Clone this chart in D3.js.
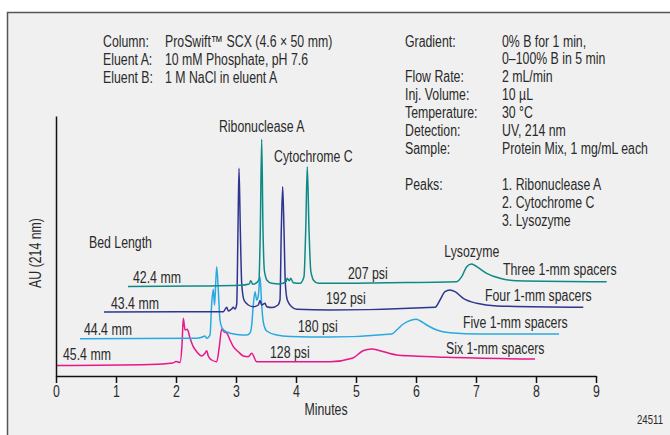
<!DOCTYPE html>
<html>
<head>
<meta charset="utf-8">
<script src="https://cdn.jsdelivr.net/npm/d3@7"></script>
<style>
  body { margin: 0; background: #fff; }
  svg { display: block; font-family: "Liberation Sans", Arial, Helvetica, sans-serif; }
</style>
</head>
<body>
<svg id="chart" width="670" height="435"></svg>
<script>
// ---- data -------------------------------------------------------------
const minuteTicks = [0, 1, 2, 3, 4, 5, 6, 7, 8, 9];

const bedLengths   = ["42.4 mm", "43.4 mm", "44.4 mm", "45.4 mm"];
const pressures    = ["207 psi", "192 psi", "180 psi", "128 psi"];
const spacerLabels = ["Three 1-mm spacers", "Four 1-mm spacers", "Five 1-mm spacers", "Six 1-mm spacers"];
const peakNames    = ["Ribonuclease A", "Cytochrome C", "Lysozyme"];

const columnKeys   = ["Column:", "Eluent A:", "Eluent B:"];
const columnValues = ["ProSwift\u2122 SCX (4.6 \u00d7 50 mm)", "10 mM Phosphate, pH 7.6", "1 M NaCl in eluent A"];

const methodKeys   = ["Gradient:", "", "Flow Rate:", "Inj. Volume:", "Temperature:", "Detection:", "Sample:"];
const methodValues = ["0% B for 1 min,", "0\u2013100% B in 5 min", "2 mL/min", "10 \u00b5L", "30 \u00b0C", "UV, 214 nm", "Protein Mix, 1 mg/mL each"];
const peakList     = ["1. Ribonuclease A", "2. Cytochrome C", "3. Lysozyme"];

// chromatograms: [minutes, signal (stacked, arbitrary mAU)]
const runThree = [
  [1.20, 89.5], [2.40, 90], [3.07, 90.7], [3.22, 92], [3.245, 95.3], [3.28, 91.7], [3.345, 93.3],
  [3.383, 96.7], [3.405, 146], [3.428, 236.7], [3.45, 146], [3.472, 106], [3.495, 99], [3.512, 96],
  [3.595, 92.7], [3.733, 92], [3.833, 94.3], [3.855, 97.7], [3.888, 95.3], [3.912, 97.7], [3.955, 93.3],
  [4.067, 92.7], [4.133, 99.3], [4.162, 146], [4.188, 209.3], [4.217, 146], [4.245, 106], [4.265, 100],
  [4.288, 96], [4.372, 92.7], [4.567, 92.7], [5.5, 93.3], [6.678, 94.3], [6.762, 99.3], [6.845, 109.3],
  [6.928, 112], [7.012, 109.3], [7.178, 102.7], [7.40, 97.7], [7.678, 95.3], [9.178, 94.3]
];
const runFour = [
  [0.80, 64], [2.067, 64.3], [2.788, 64.3], [2.845, 68.7], [2.872, 65], [2.928, 67], [2.955, 68.7],
  [2.983, 67], [3.012, 72], [3.033, 146], [3.05, 207.7], [3.072, 146], [3.095, 92.7], [3.133, 76],
  [3.205, 71], [3.288, 69.3], [3.372, 71], [3.40, 75.5], [3.428, 71], [3.483, 72.7], [3.512, 69.3],
  [3.60, 68.5], [3.70, 71], [3.733, 76], [3.755, 146], [3.778, 189.3], [3.80, 146], [3.822, 92.7],
  [3.855, 76], [3.928, 69.3], [4.012, 66.7], [4.567, 66], [6.317, 68.7], [6.40, 76], [6.483, 84.3],
  [6.567, 86], [6.65, 84.3], [6.788, 77.7], [7.012, 72.7], [7.345, 70], [8.788, 68.7]
];
const runFive = [
  [0.40, 37.3], [2.345, 37.7], [2.428, 38.7], [2.483, 40], [2.512, 37.7], [2.567, 41], [2.595, 72.7],
  [2.622, 86.7], [2.642, 71], [2.678, 109.3], [2.705, 86], [2.733, 56], [2.778, 47], [2.845, 44],
  [3.012, 41.5], [3.178, 41], [3.233, 43], [3.262, 51], [3.288, 71], [3.317, 84.3], [3.345, 76],
  [3.372, 80], [3.40, 99.3], [3.428, 71], [3.458, 53], [3.512, 45], [3.678, 41], [3.90, 39.5],
  [4.567, 39], [5.595, 42], [5.678, 46], [5.788, 52], [5.928, 56], [6.0, 56.7], [6.067, 55.3],
  [6.178, 51], [6.345, 46], [6.567, 43.3], [7.067, 42], [8.383, 42]
];
const runSix = [
  [0, 10.5], [1.567, 11.5], [1.95, 13], [2.0, 14.5], [2.067, 13.5], [2.10, 31], [2.122, 57.7],
  [2.15, 46], [2.188, 46.7], [2.233, 38], [2.288, 29.3], [2.345, 24.3], [2.428, 20], [2.483, 22.7],
  [2.512, 25.3], [2.538, 20], [2.595, 16], [2.678, 14.3], [2.722, 29.3], [2.762, 47], [2.80, 44.3],
  [2.845, 43], [2.90, 36], [2.955, 29.3], [3.038, 24.3], [3.122, 20], [3.205, 19.3], [3.262, 22.7],
  [3.345, 14.3], [4.567, 14.3], [4.95, 18], [5.117, 25.3], [5.262, 27], [5.40, 25.3], [5.678, 21],
  [5.95, 20], [6.512, 18.7], [7.983, 17]
];
const runs = [runThree, runFour, runFive, runSix];

// ---- styling / layout -----------------------------------------------
const traceColors = ["#0d8a85", "#2e3591", "#29a9e1", "#e8168b"];
const INK = "#2a2a2a";
const FS = 16;       // body text size
const SX = 0.77;     // horizontal squeeze for a condensed look

const svg = d3.select("#chart");

// panel background with left/top rule
svg.append("rect").attr("x", 7.5).attr("y", 12.5).attr("width", 700).attr("height", 440).attr("fill", "#f0f0f0");
svg.append("path").attr("d", "M7.5,440V12.5H670").attr("fill", "none").attr("stroke", "#555").attr("stroke-width", 1.5);

const x = d3.scaleLinear().domain([0, 9]).range([56, 596]);
const y = d3.scaleLinear().domain([0, 260]).range([376, 116]);

function label(parent, px, py, str, anchor = "start", size = FS) {
  return parent.append("text")
    .attr("transform", `translate(${px},${py}) scale(${SX},1)`)
    .attr("text-anchor", anchor)
    .attr("font-size", size)
    .attr("fill", INK)
    .text(str);
}

// condition text blocks
const info = svg.append("g");
columnKeys.forEach((k, i) => {
  label(info, 103, 47 + i * 18, k);
  label(info, 165, 47 + i * 18, columnValues[i]);
});
methodKeys.forEach((k, i) => {
  const by = 46.5 + i * 17.9;
  if (k) label(info, 405, by, k);
  label(info, 502, by, methodValues[i]);
});
label(info, 405, 190, "Peaks:");
peakList.forEach((p, i) => label(info, 502, 190 + i * 18, p));

// traces
const line = d3.line().x(d => x(d[0])).y(d => y(d[1])).curve(d3.curveMonotoneX);
const traces = svg.append("g").attr("fill", "none").attr("stroke-width", 1.5).attr("stroke-linejoin", "round");
// draw back to front so the upper traces stay visible
runs.slice().reverse().forEach((r, j) => {
  const i = runs.length - 1 - j;
  traces.append("path").attr("d", line(r)).attr("stroke", traceColors[i]);
});

// axes
const xAxis = svg.append("g")
  .attr("transform", `translate(0,${y(0)})`)
  .call(d3.axisBottom(x).tickValues(minuteTicks).tickFormat(d3.format("d")).tickSize(7).tickPadding(3).tickSizeOuter(0));
xAxis.select(".domain").attr("stroke", "#111").attr("stroke-width", 1.5);
xAxis.selectAll(".tick line").attr("stroke", "#111").attr("stroke-width", 1.5);
xAxis.selectAll(".tick text")
  .attr("font-size", FS).attr("fill", INK).attr("font-family", null)
  .attr("transform", `scale(${SX},1)`);

const yAxis = svg.append("g")
  .attr("transform", `translate(${x(0)},0)`)
  .call(d3.axisLeft(y).tickValues([]).tickSizeOuter(0));
yAxis.select(".domain").attr("stroke", "#111").attr("stroke-width", 1.5);

label(svg, 326, 415, "Minutes", "middle");
svg.append("text")
  .attr("transform", `translate(41,253) rotate(-90) scale(${SX},1)`)
  .attr("text-anchor", "middle").attr("font-size", FS).attr("fill", INK)
  .text("AU (214 nm)");
label(svg, 663, 424, "24511", "end", 12.5);

// trace annotations
const ann = svg.append("g");
label(ann, 89, 248, "Bed Length");
const bedX = [133, 111, 84, 63];
const bedY = [283, 309, 335, 360];
const psiX = [348, 326, 298, 270];
const psiY = [279, 304, 331.5, 358];
const spX  = [503, 485, 463, 446];
const spY  = [275, 300.5, 328, 354];
bedLengths.forEach((b, i) => {
  label(ann, bedX[i], bedY[i], b);
  label(ann, psiX[i], psiY[i], pressures[i]);
  label(ann, spX[i], spY[i], spacerLabels[i]);
});

label(ann, x(3.428), 132, peakNames[0], "middle");
label(ann, 274, 162, peakNames[1], "start");
label(ann, x(6.93), 257, peakNames[2], "middle");
</script>
</body>
</html>
